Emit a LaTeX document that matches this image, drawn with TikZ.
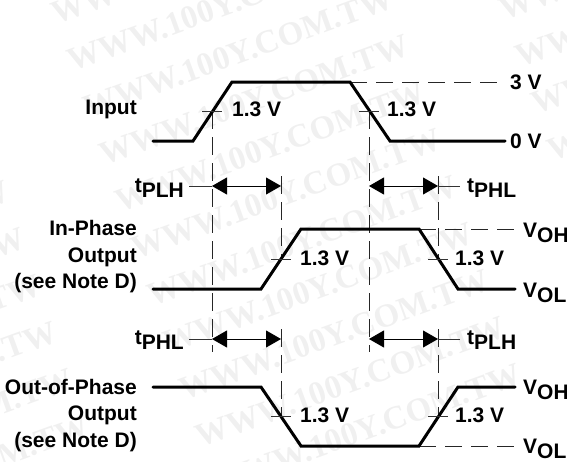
\documentclass[tikz,border=0pt]{standalone}
\usepackage{fontspec}
\setmainfont{Liberation Sans}[BoldFont={Liberation Sans Bold}]
\newfontfamily\wmfont{Liberation Serif}[BoldFont={Liberation Serif Bold}]
\usetikzlibrary{arrows.meta}
\newcommand{\lbl}{\fontsize{21}{24}\selectfont\bfseries}
\newcommand{\sigsub}[2]{#1\raisebox{-5.5pt}{#2}}
\tikzset{
  x=1pt,y=-1pt,
  sig/.style={line width=3pt,line join=miter,line cap=round},
  crosstick/.style={line width=0.8pt,black!80},
  vguide/.style={line width=0.8pt,black!85,dash pattern=on 18pt off 8pt},
  hguide/.style={line width=0.8pt,black!85,dash pattern=on 17pt off 9pt},
  spanarrow/.style={line width=0.8pt,{Triangle[length=15pt,width=17pt]}-{Triangle[length=15pt,width=17pt]}},
  lab/.style={inner sep=0pt,font=\lbl},
  rlab/.style={lab,anchor=base east},
  llab/.style={lab,anchor=base west},
  wm/.style={inner sep=0pt,anchor=base west,font=\wmfont\bfseries\fontsize{33}{33}\selectfont,text=black!6,rotate=20},
}
\begin{document}
\begin{tikzpicture}
\useasboundingbox (0,0) rectangle (567,461);
\begin{scope}
\clip (0,0) rectangle (567,461);
% watermark
\foreach \i in {-4,...,9}{
  \foreach \j in {-1,0,1,2}{
    \pgfmathsetmacro{\wx}{72+16*\i+400*\j}
    \pgfmathsetmacro{\wy}{72+47*\i-145.6*\j}
    \pgfmathparse{and(and(\wx<567,\wx>-344),and(\wy>0,\wy<586))?1:0}
    \ifnum\pgfmathresult=1
      \node[wm] at (\wx,\wy) {WWW.100Y.COM.TW};
    \fi
  }
}
\end{scope}
% crossings
\coordinate (a1) at (212,111); \coordinate (a2) at (369,111);
\coordinate (b1) at (281,259); \coordinate (b2) at (438,259);
\coordinate (c1) at (281,416); \coordinate (c2) at (438,416);
% guide ends
\coordinate (e1) at (212,352); \coordinate (e2) at (369,352);
\coordinate (t3) at (281,176); \coordinate (t4) at (438,176);
\coordinate (m3) at (281,329); \coordinate (m4) at (438,329);
% signals
\coordinate (i0) at (153,141); \coordinate (i1) at (193,141); \coordinate (i2) at (232,82);
\coordinate (i3) at (350,82); \coordinate (i4) at (390,141); \coordinate (i5) at (505,141);
\coordinate (i6) at (505,82);
\coordinate (p0) at (153,289); \coordinate (p1) at (261,289); \coordinate (p2) at (301,229);
\coordinate (p3) at (419,229); \coordinate (p4) at (458,289); \coordinate (p5) at (515,289);
\coordinate (p6) at (515,229);
\coordinate (q0) at (153,387); \coordinate (q1) at (261,387); \coordinate (q2) at (301,446);
\coordinate (q3) at (419,446); \coordinate (q4) at (458,387); \coordinate (q5) at (515,387);
\coordinate (q6) at (515,446);
% guides
\draw[vguide] (a1) -- (e1);
\draw[vguide] (a2) -- (e2);
\draw[vguide] (t3) -- (b1);
\draw[vguide] (t4) -- (b2);
\draw[vguide] (m3) -- (c1);
\draw[vguide] (m4) -- (c2);
\draw[hguide] (i3) -- (i6);
\draw[hguide] (p3) -- (p6);
\draw[hguide] (q3) -- (q6);
% signal traces
\draw[sig] (i0) -- (i1) -- (i2) -- (i3) -- (i4) -- (i5);
\draw[sig] (p0) -- (p1) -- (p2) -- (p3) -- (p4) -- (p5);
\draw[sig] (q0) -- (q1) -- (q2) -- (q3) -- (q4) -- (q5);
% crossing ticks
\foreach \c in {a1,a2,b1,b2,c1,c2}{
  \draw[crosstick] ([xshift=-10pt]\c) -- ([xshift=10pt]\c);
}
% timing arrows
\coordinate (s1) at (212,186); \coordinate (s2) at (281,186);
\coordinate (s3) at (369,186); \coordinate (s4) at (438,186);
\coordinate (r1) at (212,339); \coordinate (r2) at (281,339);
\coordinate (r3) at (369,339); \coordinate (r4) at (438,339);
\draw[spanarrow] (s1) -- (s2);
\draw[spanarrow] (s3) -- (s4);
\draw[spanarrow] (r1) -- (r2);
\draw[spanarrow] (r3) -- (r4);
% timing labels and leaders
\node[rlab] (tl1) at (184,192) {\sigsub{t}{PLH}};
\node[llab] (tr1) at (467,192) {\sigsub{t}{PHL}};
\node[rlab] (tl2) at (184,344) {\sigsub{t}{PHL}};
\node[llab] (tr2) at (467,344) {\sigsub{t}{PLH}};
\coordinate (ll1) at (189,186); \coordinate (lr1) at (460,186);
\coordinate (ll2) at (189,339); \coordinate (lr2) at (460,339);
\draw[crosstick] (ll1) -- (s1);
\draw[crosstick] (s4) -- (lr1);
\draw[crosstick] (ll2) -- (r1);
\draw[crosstick] (r4) -- (lr2);
% voltage labels
\node[llab] (v1) at (232,116) {1.3 V};
\node[llab] (v2) at (387,116) {1.3 V};
\node[llab] (v3) at (300,265) {1.3 V};
\node[llab] (v4) at (455,265) {1.3 V};
\node[llab] (v5) at (300,422) {1.3 V};
\node[llab] (v6) at (455,422) {1.3 V};
\node[llab] (hi) at (510,89) {3 V};
\node[llab] (lo) at (510,148) {0 V};
\node[llab] (voh1) at (523,237) {\sigsub{V}{OH}};
\node[llab] (vol1) at (523,297) {\sigsub{V}{OL}};
\node[llab] (voh2) at (523,394) {\sigsub{V}{OH}};
\node[llab] (vol2) at (523,453) {\sigsub{V}{OL}};
% signal names
\node[rlab] (n1) at (137,114) {Input};
\node[rlab] (n2) at (137,235) {In-Phase};
\node[rlab] (n3) at (137,262) {Output};
\node[rlab] (n4) at (137,288) {(see Note D)};
\node[rlab] (n5) at (137,394) {Out-of-Phase};
\node[rlab] (n6) at (137,420) {Output};
\node[rlab] (n7) at (137,447) {(see Note D)};
\end{tikzpicture}
\end{document}
